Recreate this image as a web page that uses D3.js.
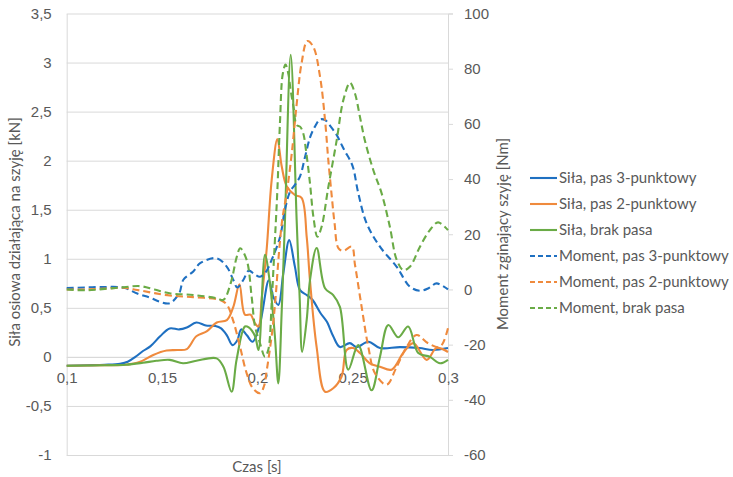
<!DOCTYPE html>
<html lang="pl">
<head>
<meta charset="UTF-8">
<title>Siła i moment - szyja</title>
<script src="https://d3js.org/d3.v7.min.js"></script>
<style>
  body { margin: 0; background: #fff; }
  svg { font-family: Lato, "Open Sans", sans-serif; }
  .axis text { fill: #595959; font-size: 15px; }
</style>
</head>
<body>
<svg width="733" height="477"></svg>
<script>
// --- data: [czas s, wartość] ---
const silaPas3 = [[0.100,-0.09],[0.110,-0.085],[0.120,-0.08],[0.128,-0.07],[0.132,-0.05],[0.136,0.0],[0.140,0.06],[0.144,0.11],[0.149,0.21],[0.154,0.29],[0.159,0.28],[0.163,0.30],[0.168,0.35],[0.173,0.32],[0.178,0.315],[0.181,0.29],[0.184,0.22],[0.187,0.12],[0.1895,0.17],[0.1915,0.28],[0.1945,0.22],[0.1975,0.155],[0.2014,0.34],[0.206,0.78],[0.2084,0.61],[0.211,0.53],[0.2136,0.85],[0.2167,1.19],[0.2197,0.92],[0.2224,0.68],[0.226,0.63],[0.229,0.58],[0.233,0.45],[0.2364,0.36],[0.2398,0.21],[0.2433,0.10],[0.2485,0.14],[0.252,0.10],[0.2582,0.155],[0.2643,0.09],[0.2748,0.10],[0.285,0.09],[0.292,0.07],[0.300,0.09]];
const silaPas2 = [[0.100,-0.09],[0.120,-0.085],[0.131,-0.08],[0.1385,-0.05],[0.1454,0.02],[0.1524,0.065],[0.158,0.07],[0.163,0.08],[0.168,0.21],[0.1734,0.26],[0.1787,0.35],[0.184,0.375],[0.1874,0.51],[0.1906,0.74],[0.1935,0.43],[0.1965,0.43],[0.1985,0.35],[0.2006,0.31],[0.2023,0.6],[0.2049,1.1],[0.2075,1.8],[0.2105,2.22],[0.2128,1.94],[0.2154,1.74],[0.2197,1.65],[0.2232,1.62],[0.2259,1.22],[0.2276,0.78],[0.2311,0.10],[0.2355,-0.355],[0.2398,-0.32],[0.2442,-0.20],[0.2468,0.07],[0.2503,0.09],[0.2538,0.04],[0.259,-0.065],[0.2643,-0.10],[0.2704,-0.13],[0.2765,0.04],[0.2818,0.14],[0.2888,-0.03],[0.294,0.09],[0.300,0.05]];
const silaBrak = [[0.100,-0.09],[0.120,-0.085],[0.131,-0.08],[0.140,-0.06],[0.147,-0.04],[0.154,-0.03],[0.161,-0.065],[0.168,-0.04],[0.1786,-0.015],[0.1822,-0.10],[0.1865,-0.355],[0.1891,-0.03],[0.1935,0.31],[0.1955,0.30],[0.1988,0.21],[0.2006,0.07],[0.204,1.04],[0.2066,0.75],[0.2092,0.21],[0.211,-0.27],[0.2128,0.48],[0.2145,1.40],[0.2175,3.08],[0.2206,1.40],[0.2222,0.60],[0.2235,0.05],[0.2259,0.38],[0.2276,0.78],[0.2311,1.11],[0.2355,0.70],[0.2398,0.63],[0.2433,0.51],[0.2477,-0.13],[0.2529,0.12],[0.2599,-0.34],[0.2643,0.0],[0.2687,0.325],[0.2739,0.20],[0.2791,0.31],[0.2844,0.04],[0.2905,0.0],[0.2958,-0.065],[0.300,-0.03]];

const momentPas3 = [[0.100,0.5],[0.110,0.7],[0.120,0.9],[0.130,0.6],[0.137,-1.5],[0.1437,-3.0],[0.149,-4.5],[0.154,-5.0],[0.159,-1.4],[0.1612,3.5],[0.1664,6.5],[0.170,9.5],[0.1787,11.3],[0.184,8.2],[0.1874,3.4],[0.1895,0.7],[0.1927,3.5],[0.1955,6.8],[0.1985,5.5],[0.2014,4.6],[0.2045,6.4],[0.2075,10.7],[0.2119,19],[0.2145,29],[0.2172,35.5],[0.2198,38],[0.2224,41],[0.225,48],[0.2276,55],[0.2302,59],[0.2329,61.6],[0.2355,61.4],[0.2385,59],[0.2416,56],[0.2438,53],[0.246,50],[0.2485,47],[0.2503,44],[0.2529,35],[0.2573,24],[0.2643,15.5],[0.2731,8.2],[0.280,1.0],[0.2853,-0.5],[0.290,0.5],[0.294,2.2],[0.300,0.0]];
const momentPas2 = [[0.100,0.0],[0.110,0.0],[0.120,0.3],[0.130,0.6],[0.137,-0.2],[0.145,-1.2],[0.154,-2.2],[0.1664,-2.8],[0.1805,-3.8],[0.184,-5.5],[0.1874,-11.5],[0.191,-21],[0.1944,-30.4],[0.1978,-36],[0.2015,-37.6],[0.2035,-35],[0.205,-29],[0.2079,-14.7],[0.2096,-2.6],[0.2113,13],[0.213,25],[0.2154,35],[0.218,49],[0.2206,67],[0.2232,82],[0.2262,90],[0.2293,88],[0.2329,77],[0.2355,61.4],[0.2372,47],[0.239,34],[0.2405,24],[0.2425,15],[0.2451,14],[0.2495,15.5],[0.2512,9],[0.2547,-6.3],[0.2582,-20.8],[0.2617,-30.4],[0.2678,-34.5],[0.2731,-28],[0.2783,-20.8],[0.2835,-16.5],[0.2896,-19.5],[0.2958,-20.8],[0.300,-14]];
const momentBrak = [[0.100,0.0],[0.110,-0.3],[0.120,0.2],[0.130,0.8],[0.1385,1.2],[0.146,0],[0.154,-1.4],[0.1664,-2.0],[0.1787,-3.2],[0.1822,-3.8],[0.186,2.2],[0.1892,11.8],[0.191,14.9],[0.1944,10.7],[0.197,-2.6],[0.1988,-13.5],[0.2014,-19.5],[0.204,-24.4],[0.2057,-22],[0.2075,-5],[0.2084,7],[0.2093,19],[0.2105,36],[0.2119,61],[0.2133,78],[0.2148,81.5],[0.2163,78],[0.2175,72],[0.219,66],[0.2206,59.6],[0.2224,59],[0.2241,56.5],[0.2255,50.5],[0.2276,38.5],[0.2294,26.3],[0.2315,19.1],[0.2337,22.7],[0.2372,37],[0.2416,54],[0.2451,68.6],[0.2486,74.9],[0.2512,71],[0.2538,62.6],[0.2564,54],[0.2608,43.3],[0.2652,34.8],[0.2695,22.7],[0.2731,10.7],[0.2766,7.0],[0.280,8.2],[0.2853,15.5],[0.2905,21.5],[0.2948,24.3],[0.300,21.5]];

const xTicks = [0.1, 0.15, 0.2, 0.25, 0.3];
const leftTicks = [-1, -0.5, 0, 0.5, 1, 1.5, 2, 2.5, 3, 3.5];
const rightTicks = [-60, -40, -20, 0, 20, 40, 60, 80, 100];

const blue = "#1f70c1", orange = "#ef8a3d", green = "#6aab46";
const series = [
  {name: "Siła, pas 3-punktowy", data: silaPas3, color: blue, axis: "L", dash: null},
  {name: "Siła, pas 2-punktowy", data: silaPas2, color: orange, axis: "L", dash: null},
  {name: "Siła, brak pasa", data: silaBrak, color: green, axis: "L", dash: null},
  {name: "Moment, pas 3-punktowy", data: momentPas3, color: blue, axis: "R", dash: "7,4"},
  {name: "Moment, pas 2-punktowy", data: momentPas2, color: orange, axis: "R", dash: "7,4"},
  {name: "Moment, brak pasa", data: momentBrak, color: green, axis: "R", dash: "7,4"}
];

const plotL = 66.7, plotR = 448, plotT = 13.5, plotB = 455;
const svg = d3.select("svg");
const fmt = d => String(d).replace(".", ",");

const x = d3.scaleLinear().domain([0.1, 0.3]).range([plotL, plotR]);
const yL = d3.scaleLinear().domain([-1, 3.5]).range([plotB, plotT]);
const yR = d3.scaleLinear().domain([-60, 100]).range([plotB, plotT]);

// gridlines
svg.append("g")
    .attr("transform", `translate(${plotL},0)`)
    .call(d3.axisLeft(yL).tickValues(leftTicks).tickSize(-(plotR - plotL)).tickFormat(""))
    .call(g => g.select(".domain").remove())
    .call(g => g.selectAll("line").attr("stroke", "#d9d9d9"));

// left axis
svg.append("g")
    .attr("class", "axis")
    .attr("transform", `translate(${plotL},0)`)
    .call(d3.axisLeft(yL).tickValues(leftTicks).tickSize(0).tickPadding(15).tickFormat(fmt))
    .call(g => g.select(".domain").attr("stroke", "#d9d9d9"));

// right axis
svg.append("g")
    .attr("class", "axis")
    .attr("transform", `translate(${plotR},0)`)
    .call(d3.axisRight(yR).tickValues(rightTicks).tickSize(5).tickPadding(11).tickFormat(d => String(d)))
    .call(g => g.selectAll("line, .domain").attr("stroke", "#d9d9d9"));

// x axis through 0
svg.append("g")
    .attr("class", "axis")
    .attr("transform", `translate(0,${yL(0)})`)
    .call(d3.axisBottom(x).tickValues(xTicks).tickSize(0).tickPadding(15).tickFormat(fmt))
    .call(g => g.select(".domain").attr("stroke", "#d9d9d9"));

// lines
const lineFor = s => d3.line()
    .x(d => x(d[0]))
    .y(d => (s.axis === "L" ? yL : yR)(d[1]))
    .curve(d3.curveCatmullRom.alpha(0.5));

svg.append("g").selectAll("path")
  .data(series)
  .enter().append("path")
    .attr("d", s => lineFor(s)(s.data))
    .attr("fill", "none")
    .attr("stroke", s => s.color)
    .attr("stroke-width", 2.1)
    .attr("stroke-dasharray", s => s.dash)
    .attr("stroke-linejoin", "round");

// axis titles
svg.append("text")
    .attr("transform", "translate(20,232) rotate(-90)")
    .attr("text-anchor", "middle")
    .attr("fill", "#595959").attr("font-size", 15)
    .text("Siła osiowa działająca na szyję [kN]");

svg.append("text")
    .attr("transform", "translate(508,234) rotate(-90)")
    .attr("text-anchor", "middle")
    .attr("fill", "#595959").attr("font-size", 15)
    .text("Moment zginający szyję [Nm]");

svg.append("text")
    .attr("x", 257).attr("y", 472)
    .attr("text-anchor", "middle")
    .attr("fill", "#595959").attr("font-size", 15)
    .text("Czas [s]");

// legend
const legend = svg.append("g").attr("transform", "translate(530,178)");
const item = legend.selectAll("g")
  .data(series)
  .enter().append("g")
    .attr("transform", (d, i) => `translate(0,${i * 26})`);
item.append("line")
    .attr("x1", 0).attr("x2", 27)
    .attr("stroke", d => d.color)
    .attr("stroke-width", 2.1)
    .attr("stroke-dasharray", d => d.dash ? "5,3" : null);
item.append("text")
    .attr("x", 29).attr("dy", "0.35em")
    .attr("fill", "#595959").attr("font-size", 15)
    .text(d => d.name);
</script>
</body>
</html>
